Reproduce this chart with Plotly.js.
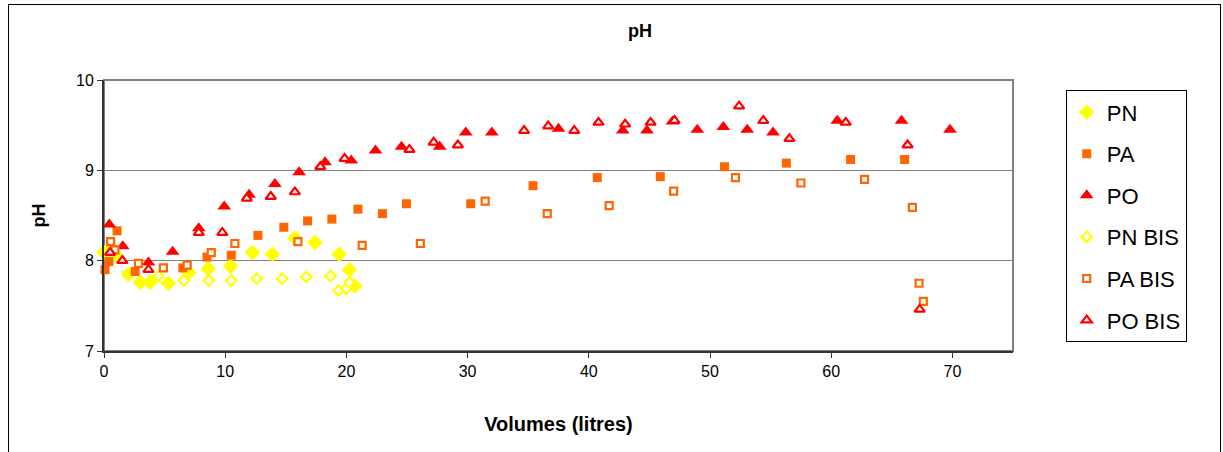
<!DOCTYPE html>
<html>
<head>
<meta charset="utf-8">
<script src="https://cdn.plot.ly/plotly-3.0.1.min.js"></script>
<style>
  html, body { margin: 0; padding: 0; background: #fff; }
  #wrap { position: relative; width: 1223px; height: 452px; overflow: hidden; }
  #chart { position: absolute; left: 0; top: 0; width: 1223px; height: 452px; }
  #frame { position: absolute; left: 8px; top: 4px; width: 1211px; height: 470px; border: 1px solid #000; pointer-events: none; }
</style>
</head>
<body>
<div id="wrap"><div id="chart"></div><div id="frame"></div></div>
<script>
// Series names
const seriesNames = ["PN", "PA", "PO", "PN BIS", "PA BIS", "PO BIS"];

// PN (filled diamonds)
const pnX = [0.0, 1.05, 2.0, 3.0, 3.8, 5.3, 7.0, 8.6, 10.45, 12.25, 13.9, 15.75, 17.4, 19.4, 20.25, 20.7];
const pnY = [8.09, 8.05, 7.85, 7.76, 7.76, 7.75, 7.87, 7.91, 7.94, 8.09, 8.07, 8.25, 8.20, 8.07, 7.90, 7.72];

// PA (filled squares)
const paX = [0.08, 0.4, 1.08, 2.57, 6.5, 8.5, 10.5, 12.7, 14.84, 16.8, 18.8, 20.95, 22.97, 24.96, 30.26, 35.4, 40.7, 45.9, 51.2, 56.3, 61.6, 66.06];
const paY = [7.90, 7.99, 8.33, 7.88, 7.92, 8.04, 8.06, 8.28, 8.37, 8.44, 8.46, 8.57, 8.52, 8.63, 8.63, 8.83, 8.92, 8.93, 9.04, 9.08, 9.12, 9.12];

// PO (filled triangles)
const poX = [0.44, 1.55, 3.67, 5.66, 7.82, 9.92, 11.97, 14.1, 16.1, 18.24, 20.4, 22.4, 24.55, 27.7, 29.85, 32.0, 37.5, 42.8, 44.8, 46.9, 48.95, 51.1, 53.07, 55.2, 60.5, 65.8, 69.8];
const poY = [8.40, 8.16, 7.98, 8.10, 8.36, 8.60, 8.73, 8.85, 8.98, 9.09, 9.11, 9.22, 9.26, 9.26, 9.42, 9.42, 9.46, 9.44, 9.44, 9.54, 9.45, 9.48, 9.45, 9.42, 9.55, 9.55, 9.45];

// PN BIS (open diamonds)
const pnBisX = [0.64, 4.5, 6.58, 8.65, 10.5, 12.6, 14.7, 16.7, 18.7, 19.35, 20.0, 20.25];
const pnBisY = [8.16, 7.83, 7.78, 7.78, 7.78, 7.80, 7.80, 7.82, 7.83, 7.67, 7.69, 7.76];

// PA BIS (open squares)
const paBisX = [0.55, 0.9, 2.85, 4.9, 6.86, 8.85, 10.8, 16.0, 21.3, 26.1, 31.45, 36.57, 41.68, 47.0, 52.1, 57.5, 62.75, 66.7, 67.25, 67.6];
const paBisY = [8.21, 8.12, 7.97, 7.92, 7.95, 8.09, 8.19, 8.21, 8.17, 8.19, 8.66, 8.52, 8.61, 8.77, 8.92, 8.86, 8.90, 8.59, 7.75, 7.55];

// PO BIS (open triangles)
const poBisX = [0.5, 1.52, 3.67, 7.82, 9.76, 11.78, 13.76, 15.75, 17.85, 19.85, 25.2, 27.2, 29.2, 34.66, 36.65, 38.8, 40.8, 43.0, 45.1, 47.07, 52.4, 54.4, 56.55, 61.2, 66.3, 67.3];
const poBisY = [8.09, 8.00, 7.90, 8.31, 8.31, 8.69, 8.71, 8.76, 9.04, 9.13, 9.23, 9.31, 9.28, 9.44, 9.49, 9.44, 9.53, 9.51, 9.53, 9.55, 9.71, 9.55, 9.35, 9.53, 9.28, 7.46];

// Tick labels
const xTicks = [0, 10, 20, 30, 40, 50, 60, 70];
const yTicks = [7, 8, 9, 10];

const YELLOW = "#FFFF00", ORANGE = "#FF6600", RED = "#FF0000";
const FONT = "Liberation Sans, Arial, sans-serif";

function filled(name, x, y, sym, col, size) {
  return { type: "scatter", mode: "markers", name: name, x: x, y: y, legendgroup: name,
    marker: { symbol: sym, color: col, size: size, line: { width: 0 } }, cliponaxis: false };
}
function hollow(name, x, y, sym, col, size) {
  return { type: "scatter", mode: "markers", name: name, x: x, y: y, legendgroup: name,
    marker: { symbol: sym, color: "#FFFFFF", size: size, line: { color: col, width: 2.2 } }, cliponaxis: false };
}

const data = [
  filled(seriesNames[0], pnX, pnY, "diamond", YELLOW, 12),
  filled(seriesNames[1], paX, paY, "square", ORANGE, 9),
  filled(seriesNames[2], poX, poY, "triangle-up", RED, 12),
  hollow(seriesNames[3], pnBisX, pnBisY, "diamond", YELLOW, 8),
  hollow(seriesNames[4], paBisX, paBisY, "square", ORANGE, 7),
  hollow(seriesNames[5], poBisX, poBisY, "triangle-up", RED, 9)
];

const layout = {
  width: 1223, height: 452,
  margin: { l: 104, r: 210, t: 80, b: 101, pad: 0 },
  paper_bgcolor: "#FFFFFF", plot_bgcolor: "#FFFFFF",
  font: { family: FONT, color: "#000", size: 16 },
  showlegend: true,
  title: { text: "<b>pH</b>", x: 640 / 1223, xref: "container", xanchor: "center", y: 1 - 31 / 452, yref: "container", yanchor: "middle", font: { family: FONT, size: 18, color: "#000" } },
  xaxis: {
    range: [0, 75], tickvals: xTicks, ticktext: xTicks.map(String),
    showgrid: false, zeroline: false, showline: true, linecolor: "#333", linewidth: 2,
    ticks: "outside", ticklen: 5, tickcolor: "#333", tickwidth: 1,
    tickfont: { family: FONT, size: 16, color: "#000" },
    title: { text: "<b>Volumes (litres)</b>", font: { family: FONT, size: 20, color: "#000" }, standoff: 38 }
  },
  yaxis: {
    range: [7, 10], tickvals: yTicks, ticktext: yTicks.map(String),
    showgrid: true, gridcolor: "#808080", gridwidth: 1, zeroline: false,
    showline: true, linecolor: "#333", linewidth: 2,
    ticks: "outside", ticklen: 5, tickcolor: "#333", tickwidth: 1,
    tickfont: { family: FONT, size: 16, color: "#000" },
    title: { text: "<b>pH</b>", font: { family: FONT, size: 18, color: "#000" }, standoff: 26 }
  },
  shapes: [
    { type: "rect", xref: "paper", yref: "paper", x0: 0, x1: 1, y0: 0, y1: 1, line: { color: "#808080", width: 2 }, layer: "below" }
  ],
  legend: {
    x: 1.058, xanchor: "left", y: 0.962, yanchor: "top",
    bordercolor: "#000", borderwidth: 1, bgcolor: "#FFFFFF",
    font: { family: FONT, size: 22, color: "#000" },
    tracegroupgap: 10, itemsizing: "trace", traceorder: "grouped"
  }
};

Plotly.newPlot("chart", data, layout, { displayModeBar: false, staticPlot: true });
</script>
</body>
</html>
